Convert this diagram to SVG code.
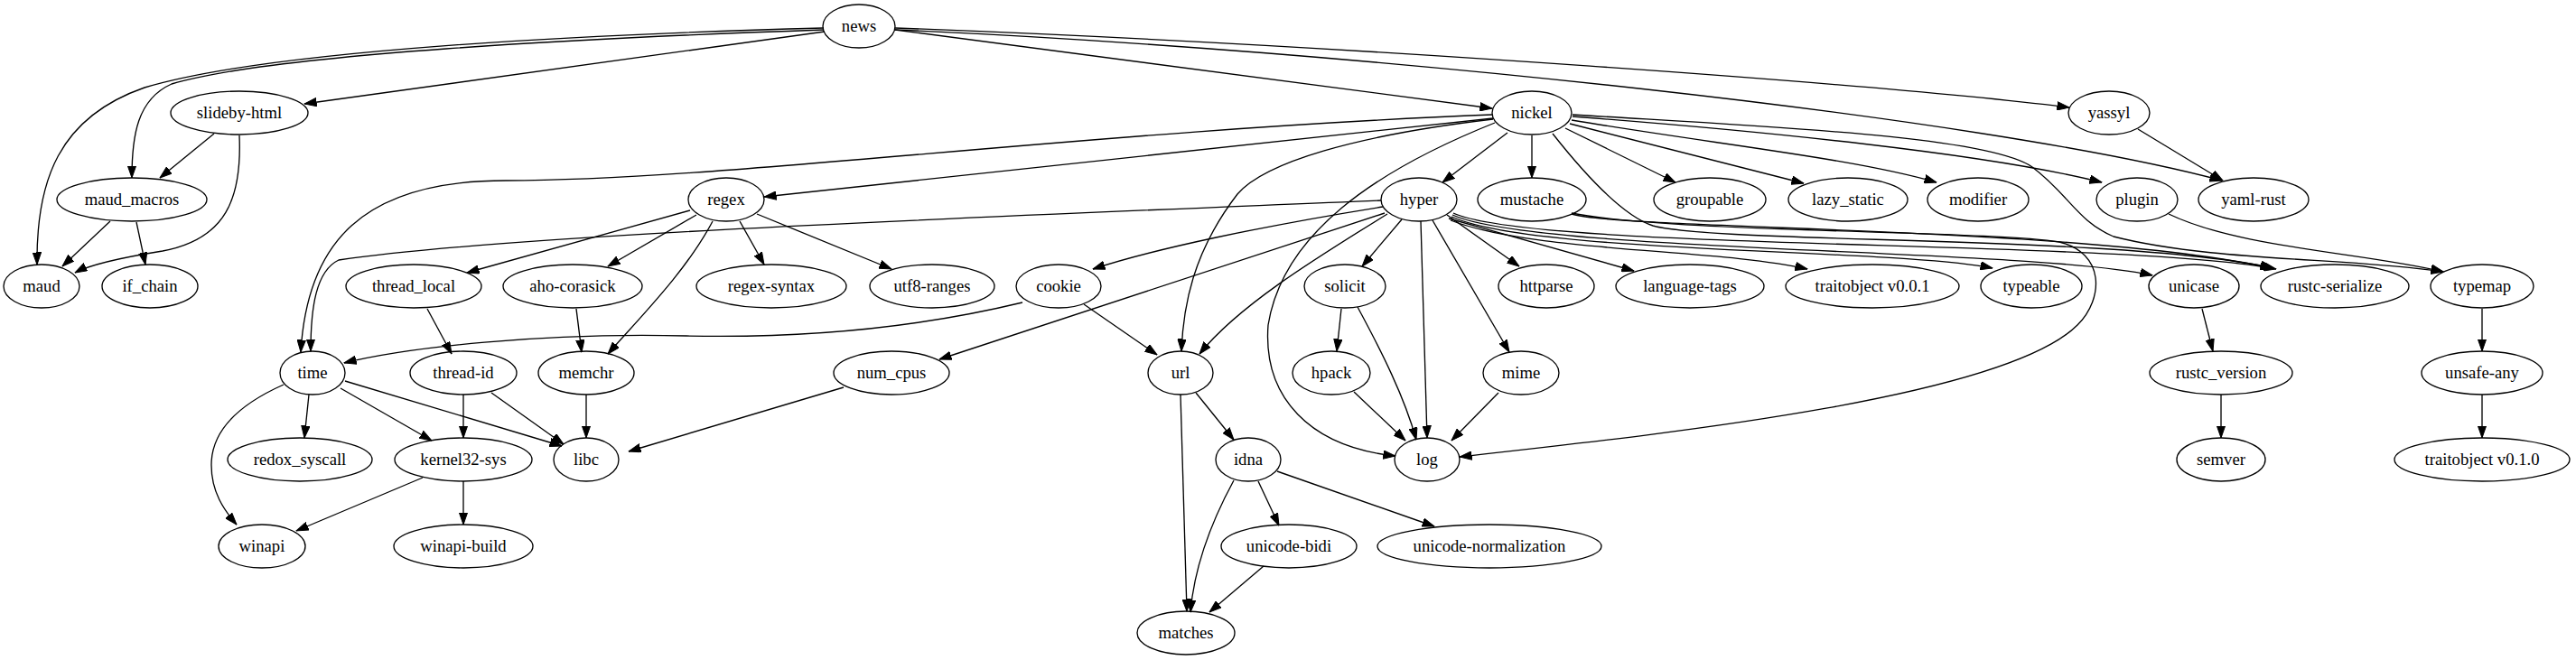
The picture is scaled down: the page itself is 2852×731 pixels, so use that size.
<svg xmlns="http://www.w3.org/2000/svg" width="2852" height="731" viewBox="0 0 2852 731">
<style>
.n ellipse{fill:none;stroke:#000;stroke-width:1.33}
.n text{font-family:"Liberation Serif","Times New Roman",serif;font-size:18.67px;text-anchor:middle;fill:#000}
#edges path{fill:none;stroke:#000;stroke-width:1.33;marker-end:url(#ah)}
</style>
<defs>
<marker id="ah" markerUnits="userSpaceOnUse" viewBox="0 0 14 10" markerWidth="14" markerHeight="10" refX="13.5" refY="5" orient="auto">
<path d="M0,0.3 L13.5,5 L0,9.7 Z" fill="#000" stroke="#000" stroke-width="1"/>
</marker>
</defs>
<rect width="2852" height="731" fill="#fff"/>
<g id="edges">
<path d="M912,31 C 650,38 300,55 160,97 C 65,130 40,200 41,293"/>
<path d="M912,33 C 650,42 300,60 190,93 C 152,110 146,150 146,197"/>
<path d="M913,35 L337,115"/>
<path d="M991,33 L1652,120"/>
<path d="M991,31 C 1500,50 2100,95 2291,119"/>
<path d="M990,33 C 1500,55 2200,130 2460,200"/>
<path d="M237,148 L177,197"/>
<path d="M265,150 C 268,220 250,265 180,278 C 130,286 100,293 83,302"/>
<path d="M122,245 L69,295"/>
<path d="M151,246 L161,293"/>
<path d="M1652,127 C 1200,145 800,200 560,200 C 400,200 340,270 333,390"/>
<path d="M1653,131 L846,218"/>
<path d="M1653,132 C 1500,150 1400,180 1370,215 C 1320,280 1310,340 1308,389"/>
<path d="M1655,136 C 1520,190 1420,260 1404,360 C 1398,440 1450,495 1545,505"/>
<path d="M1669,147 L1597,202"/>
<path d="M1696,150 L1696,197"/>
<path d="M1733,142 L1855,202"/>
<path d="M1738,137 L1997,203"/>
<path d="M1740,133 C 1900,160 2050,175 2144,202"/>
<path d="M1741,129 C 1950,145 2200,170 2327,202"/>
<path d="M1741,127 C 1950,140 2200,150 2250,185 C 2290,215 2300,245 2340,262 C 2450,290 2600,285 2705,301"/>
<path d="M1719,148 C 1760,200 1800,240 1830,250 C 1900,270 2350,260 2517,297"/>
<path d="M2367,143 L2461,200"/>
<path d="M764,233 L517,302"/>
<path d="M771,238 L673,295"/>
<path d="M789,245 C 760,300 710,350 673,392"/>
<path d="M819,245 L846,293"/>
<path d="M838,237 L987,298"/>
<path d="M1529,222 C 1100,240 560,260 375,288 C 350,300 344,340 344,389"/>
<path d="M1531,229 C 1400,250 1280,275 1210,298"/>
<path d="M1533,236 C 1400,280 1250,330 1040,398"/>
<path d="M1536,237 C 1450,290 1370,340 1328,392"/>
<path d="M1573,245 L1580,485"/>
<path d="M1552,243 L1508,295"/>
<path d="M1586,244 L1671,390"/>
<path d="M1602,238 L1682,295"/>
<path d="M1604,242 L1809,300"/>
<path d="M1606,244 C 1700,280 1900,275 2001,298"/>
<path d="M1607,240 C 1700,282 2100,275 2206,297"/>
<path d="M1608,238 C 1700,280 2250,275 2383,305"/>
<path d="M1609,236 C 1700,278 2350,265 2520,298"/>
<path d="M1740,237 C 1800,255 2300,250 2516,297"/>
<path d="M1740,236 C 1850,258 2200,255 2280,268 C 2330,280 2330,330 2300,360 C 2220,440 1850,480 1616,506"/>
<path d="M2401,237 C 2480,275 2620,280 2705,301"/>
<path d="M473,342 L500,392"/>
<path d="M638,342 L644,390"/>
<path d="M1132,335 C 1020,362 900,375 760,372 C 600,368 450,385 381,402"/>
<path d="M1200,337 L1281,393"/>
<path d="M1485,342 L1480,389"/>
<path d="M1503,340 C 1530,390 1555,440 1568,487"/>
<path d="M2438,342 L2450,389"/>
<path d="M2748,342 L2748,389"/>
<path d="M342,437 L337,485"/>
<path d="M377,430 L478,488"/>
<path d="M382,422 L622,494"/>
<path d="M314,426 C 260,450 234,480 234,515 C 234,545 248,565 262,581"/>
<path d="M513,437 L513,485"/>
<path d="M544,435 L624,492"/>
<path d="M649,437 L649,485"/>
<path d="M934,429 L696,500"/>
<path d="M1324,435 L1366,487"/>
<path d="M1307,437 L1314,677"/>
<path d="M1499,434 L1556,488"/>
<path d="M1659,435 L1607,488"/>
<path d="M2459,437 L2459,485"/>
<path d="M2748,437 L2748,485"/>
<path d="M468,529 L328,588"/>
<path d="M513,533 L513,581"/>
<path d="M1366,532 C 1340,580 1322,630 1318,678"/>
<path d="M1393,533 L1416,582"/>
<path d="M1414,522 L1588,583"/>
<path d="M1399,627 L1339,678"/>
</g>
<g id="news" class="n"><ellipse cx="951" cy="29" rx="40" ry="24"/><text x="951" y="35">news</text></g>
<g id="slideby-html" class="n"><ellipse cx="265" cy="125" rx="76" ry="24"/><text x="265" y="131">slideby-html</text></g>
<g id="nickel" class="n"><ellipse cx="1696" cy="125" rx="44" ry="24"/><text x="1696" y="131">nickel</text></g>
<g id="yassyl" class="n"><ellipse cx="2335" cy="125" rx="45" ry="24"/><text x="2335" y="131">yassyl</text></g>
<g id="maud_macros" class="n"><ellipse cx="146" cy="221" rx="83" ry="24"/><text x="146" y="227">maud_macros</text></g>
<g id="regex" class="n"><ellipse cx="804" cy="221" rx="42" ry="24"/><text x="804" y="227">regex</text></g>
<g id="hyper" class="n"><ellipse cx="1571" cy="221" rx="42" ry="24"/><text x="1571" y="227">hyper</text></g>
<g id="mustache" class="n"><ellipse cx="1696" cy="221" rx="60" ry="24"/><text x="1696" y="227">mustache</text></g>
<g id="groupable" class="n"><ellipse cx="1893" cy="221" rx="62" ry="24"/><text x="1893" y="227">groupable</text></g>
<g id="lazy_static" class="n"><ellipse cx="2046" cy="221" rx="66" ry="24"/><text x="2046" y="227">lazy_static</text></g>
<g id="modifier" class="n"><ellipse cx="2190" cy="221" rx="56" ry="24"/><text x="2190" y="227">modifier</text></g>
<g id="plugin" class="n"><ellipse cx="2366" cy="221" rx="45" ry="24"/><text x="2366" y="227">plugin</text></g>
<g id="yaml-rust" class="n"><ellipse cx="2495" cy="221" rx="61" ry="24"/><text x="2495" y="227">yaml-rust</text></g>
<g id="maud" class="n"><ellipse cx="46" cy="317" rx="42" ry="24"/><text x="46" y="323">maud</text></g>
<g id="if_chain" class="n"><ellipse cx="166" cy="317" rx="53" ry="24"/><text x="166" y="323">if_chain</text></g>
<g id="thread_local" class="n"><ellipse cx="458" cy="317" rx="75" ry="24"/><text x="458" y="323">thread_local</text></g>
<g id="aho-corasick" class="n"><ellipse cx="634" cy="317" rx="77" ry="24"/><text x="634" y="323">aho-corasick</text></g>
<g id="regex-syntax" class="n"><ellipse cx="854" cy="317" rx="83" ry="24"/><text x="854" y="323">regex-syntax</text></g>
<g id="utf8-ranges" class="n"><ellipse cx="1032" cy="317" rx="69" ry="24"/><text x="1032" y="323">utf8-ranges</text></g>
<g id="cookie" class="n"><ellipse cx="1172" cy="317" rx="47" ry="24"/><text x="1172" y="323">cookie</text></g>
<g id="solicit" class="n"><ellipse cx="1489" cy="317" rx="45" ry="24"/><text x="1489" y="323">solicit</text></g>
<g id="httparse" class="n"><ellipse cx="1712" cy="317" rx="53" ry="24"/><text x="1712" y="323">httparse</text></g>
<g id="language-tags" class="n"><ellipse cx="1871" cy="317" rx="82" ry="24"/><text x="1871" y="323">language-tags</text></g>
<g id="traitobject-v0.0.1" class="n"><ellipse cx="2073" cy="317" rx="96" ry="24"/><text x="2073" y="323">traitobject v0.0.1</text></g>
<g id="typeable" class="n"><ellipse cx="2249" cy="317" rx="56" ry="24"/><text x="2249" y="323">typeable</text></g>
<g id="unicase" class="n"><ellipse cx="2429" cy="317" rx="50" ry="24"/><text x="2429" y="323">unicase</text></g>
<g id="rustc-serialize" class="n"><ellipse cx="2585" cy="317" rx="82" ry="24"/><text x="2585" y="323">rustc-serialize</text></g>
<g id="typemap" class="n"><ellipse cx="2748" cy="317" rx="57" ry="24"/><text x="2748" y="323">typemap</text></g>
<g id="time" class="n"><ellipse cx="346" cy="413" rx="36" ry="24"/><text x="346" y="419">time</text></g>
<g id="thread-id" class="n"><ellipse cx="513" cy="413" rx="59" ry="24"/><text x="513" y="419">thread-id</text></g>
<g id="memchr" class="n"><ellipse cx="649" cy="413" rx="53" ry="24"/><text x="649" y="419">memchr</text></g>
<g id="num_cpus" class="n"><ellipse cx="987" cy="413" rx="64" ry="24"/><text x="987" y="419">num_cpus</text></g>
<g id="url" class="n"><ellipse cx="1307" cy="413" rx="36" ry="24"/><text x="1307" y="419">url</text></g>
<g id="hpack" class="n"><ellipse cx="1474" cy="413" rx="43" ry="24"/><text x="1474" y="419">hpack</text></g>
<g id="mime" class="n"><ellipse cx="1684" cy="413" rx="42" ry="24"/><text x="1684" y="419">mime</text></g>
<g id="rustc_version" class="n"><ellipse cx="2459" cy="413" rx="79" ry="24"/><text x="2459" y="419">rustc_version</text></g>
<g id="unsafe-any" class="n"><ellipse cx="2748" cy="413" rx="67" ry="24"/><text x="2748" y="419">unsafe-any</text></g>
<g id="redox_syscall" class="n"><ellipse cx="332" cy="509" rx="80" ry="24"/><text x="332" y="515">redox_syscall</text></g>
<g id="kernel32-sys" class="n"><ellipse cx="513" cy="509" rx="76" ry="24"/><text x="513" y="515">kernel32-sys</text></g>
<g id="libc" class="n"><ellipse cx="649" cy="509" rx="36" ry="24"/><text x="649" y="515">libc</text></g>
<g id="idna" class="n"><ellipse cx="1382" cy="509" rx="36" ry="24"/><text x="1382" y="515">idna</text></g>
<g id="log" class="n"><ellipse cx="1580" cy="509" rx="36" ry="24"/><text x="1580" y="515">log</text></g>
<g id="semver" class="n"><ellipse cx="2459" cy="509" rx="49" ry="24"/><text x="2459" y="515">semver</text></g>
<g id="traitobject-v0.1.0" class="n"><ellipse cx="2748" cy="509" rx="97" ry="24"/><text x="2748" y="515">traitobject v0.1.0</text></g>
<g id="winapi" class="n"><ellipse cx="290" cy="605" rx="48" ry="24"/><text x="290" y="611">winapi</text></g>
<g id="winapi-build" class="n"><ellipse cx="513" cy="605" rx="77" ry="24"/><text x="513" y="611">winapi-build</text></g>
<g id="unicode-bidi" class="n"><ellipse cx="1427" cy="605" rx="75" ry="24"/><text x="1427" y="611">unicode-bidi</text></g>
<g id="unicode-normalization" class="n"><ellipse cx="1649" cy="605" rx="124" ry="24"/><text x="1649" y="611">unicode-normalization</text></g>
<g id="matches" class="n"><ellipse cx="1313" cy="701" rx="54" ry="24"/><text x="1313" y="707">matches</text></g>
</svg>
